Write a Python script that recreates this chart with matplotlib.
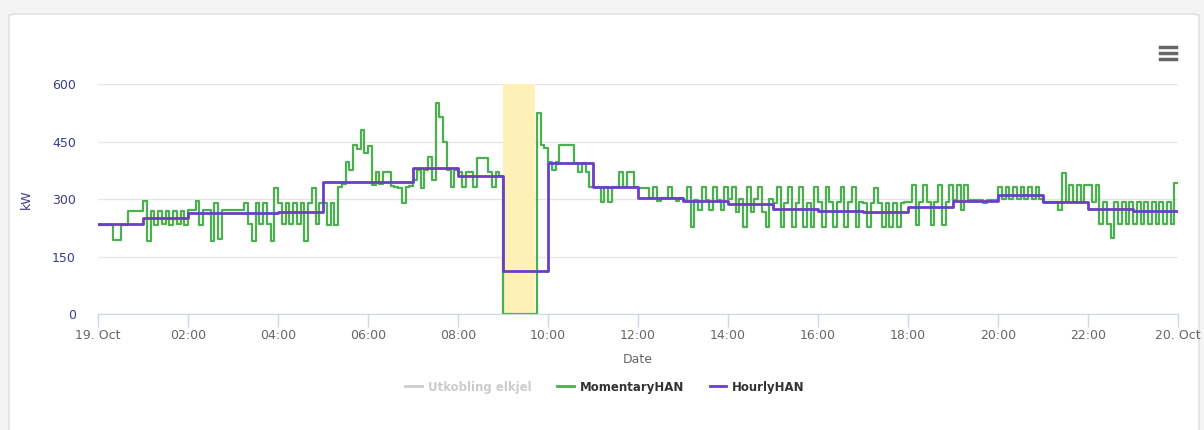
import numpy as np
from matplotlib import pyplot as plt
from matplotlib.lines import Line2D
from matplotlib.patches import FancyBboxPatch

# Momentary readings, 12 values per hour (5-minute steps), kW
momentary_rows = [
    [232, 232, 232, 232, 192, 192, 232, 232, 270, 270, 270, 270],
    [295, 190, 270, 232, 270, 235, 270, 232, 270, 236, 270, 232],
    [272, 272, 295, 232, 272, 272, 190, 290, 195, 272, 272, 272],
    [272, 272, 272, 290, 235, 190, 290, 235, 290, 235, 190, 330],
    [290, 235, 290, 235, 290, 235, 290, 190, 290, 330, 235, 290],
    [290, 232, 290, 232, 332, 340, 397, 376, 441, 430, 480, 420],
    [437, 337, 371, 340, 371, 371, 335, 332, 330, 290, 332, 335],
    [350, 376, 330, 376, 410, 350, 550, 515, 450, 376, 332, 376],
    [371, 332, 371, 371, 332, 407, 407, 407, 371, 332, 371, 360],
    [0, 0, 0, 0, 0, 0, 0, 0, 0, 524, 441, 433],
    [397, 376, 397, 441, 441, 441, 441, 394, 371, 394, 371, 332],
    [332, 332, 293, 332, 293, 332, 332, 371, 332, 371, 371, 332],
    [328, 328, 328, 303, 332, 296, 303, 303, 332, 303, 296, 303],
    [297, 332, 228, 297, 271, 332, 297, 271, 332, 297, 271, 332],
    [300, 332, 267, 300, 228, 332, 267, 300, 332, 267, 228, 300],
    [290, 332, 228, 290, 332, 228, 290, 332, 228, 290, 228, 332],
    [293, 228, 332, 293, 228, 293, 332, 228, 293, 332, 228, 293],
    [290, 228, 290, 328, 290, 228, 290, 228, 290, 228, 290, 293],
    [293, 337, 232, 293, 337, 293, 232, 293, 337, 232, 293, 337],
    [297, 337, 271, 337, 297, 297, 297, 297, 290, 297, 297, 297],
    [332, 300, 332, 300, 332, 300, 332, 300, 332, 300, 332, 300],
    [293, 293, 293, 293, 271, 368, 293, 337, 293, 337, 293, 337],
    [337, 293, 337, 236, 293, 236, 198, 293, 236, 293, 236, 293],
    [236, 293, 236, 293, 236, 293, 236, 293, 236, 293, 236, 341],
]

# Hourly averages, kW (one per hour from 00:00)
hourly_values = [234, 250, 263, 263, 265, 345, 345, 382, 360, 112, 395, 332,
                 303, 296, 287, 275, 269, 267, 278, 294, 310, 291, 275, 270]

# Disconnection period (hours)
outage_start, outage_end = 9.0, 9.71

tick_hours = list(range(0, 25, 2))
tick_labels = ["19. Oct", "02:00", "04:00", "06:00", "08:00", "10:00", "12:00",
               "14:00", "16:00", "18:00", "20:00", "22:00", "20. Oct"]

momentary = [v for row in momentary_rows for v in row]
momentary.append(momentary[-1])
t_mom = np.arange(len(momentary)) / 12.0

hourly = hourly_values + [hourly_values[-1]]
t_hour = np.arange(len(hourly))

green = "#4caf50"
purple = "#6a3fc1"

fig = plt.figure(figsize=(12.04, 4.30), dpi=100, facecolor="#f4f4f4")

# white card
card = FancyBboxPatch((9 / 1204, -0.05), 1190 / 1204, (430 - 14) / 430 + 0.05,
                      boxstyle="round,pad=0,rounding_size=0.006",
                      transform=fig.transFigure, facecolor="white",
                      edgecolor="#e2e2e2", linewidth=1.2, zorder=0)
fig.add_artist(card)

ax = fig.add_axes([98 / 1204, 1 - 314 / 430, 1080 / 1204, 230 / 430])
ax.set_facecolor("none")

ax.axvspan(outage_start, outage_end, color="#fff0b8", zorder=1, linewidth=0)
ax.plot(t_mom, momentary, drawstyle="steps-post", color=green, linewidth=1.6, zorder=3)
ax.plot(t_hour, hourly, drawstyle="steps-post", color=purple, linewidth=2, zorder=4)

ax.set_xlim(0, 24)
ax.set_ylim(0, 600)
ax.set_yticks([0, 150, 300, 450, 600])
ax.set_xticks(tick_hours)
ax.set_xticklabels(tick_labels)
ax.grid(axis="y", color="#e6e6e6", linewidth=1)
ax.set_axisbelow(True)

for side in ["top", "right", "left"]:
    ax.spines[side].set_visible(False)
ax.spines["bottom"].set_color("#ccd6eb")
ax.spines["bottom"].set_zorder(5)

ax.tick_params(axis="y", length=0, pad=16, labelsize=9, labelcolor="#3b3b8f")
ax.tick_params(axis="x", length=9, width=1, color="#ccd6eb", pad=2,
               labelsize=9, labelcolor="#666666")

ax.set_ylabel("kW", color="#3b3b8f", fontsize=9, labelpad=14)
ax.set_xlabel("Date", color="#666666", fontsize=9, labelpad=8)

handles = [Line2D([], [], color="#cccccc", linewidth=2),
           Line2D([], [], color=green, linewidth=2),
           Line2D([], [], color=purple, linewidth=2)]
leg = fig.legend(handles, ["Utkobling elkjel", "MomentaryHAN", "HourlyHAN"],
                 loc="center", bbox_to_anchor=(605 / 1204, 1 - 387 / 430),
                 ncol=3, frameon=False, fontsize=8.5, handlelength=1.4,
                 columnspacing=2.2, handletextpad=0.5)
for txt, col in zip(leg.get_texts(), ["#cccccc", "#333333", "#333333"]):
    txt.set_color(col)
    txt.set_fontweight("bold")

# context menu icon
for yy in [47, 53, 59]:
    fig.add_artist(Line2D([1160 / 1204, 1176 / 1204], [1 - yy / 430, 1 - yy / 430],
                          color="#666666", linewidth=2.5, transform=fig.transFigure))

fig.savefig("out.png", dpi=100, facecolor=fig.get_facecolor())
